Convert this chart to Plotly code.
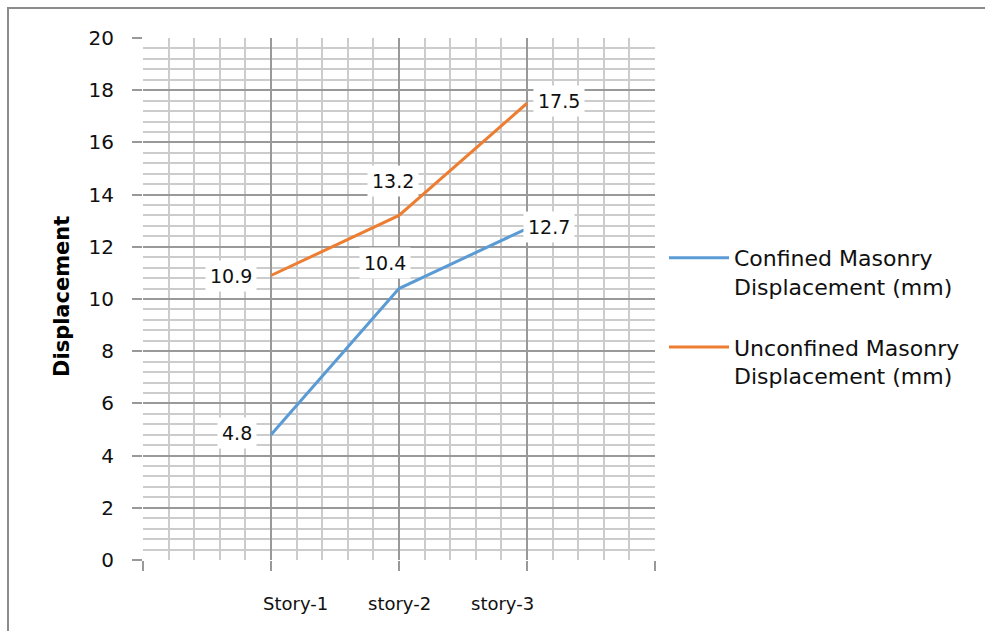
import plotly.graph_objects as go

# Story levels and lateral displacement (mm)
stories = ["Story-1", "story-2", "story-3"]
confined = [4.8, 10.4, 12.7]
unconfined = [10.9, 13.2, 17.5]

series_names = [
    "Confined Masonry<br>Displacement (mm)",
    "Unconfined Masonry<br>Displacement (mm)",
]
series_colors = ["#5B9BD5", "#ED7D31"]

# positions of the stories on the numeric x axis
story_pos = [1, 2, 3]

W, H = 985, 631
L, R, T, B = 143, 330, 38, 71
PW, PH = W - L - R, H - T - B

FONT = "DejaVu Sans, Verdana, sans-serif"
TXT = "#101010"

fig = go.Figure()
for name, vals, col in zip(series_names, [confined, unconfined], series_colors):
    fig.add_trace(go.Scatter(
        x=story_pos, y=vals, mode="lines", name=name,
        legendgroup=name,
        line=dict(color=col, width=3),
        hoverinfo="skip",
    ))

# data labels with white boxes: per-point placement (side, xshift, yshift)
placements = {
    0: [("left", -10, 2), ("above", -14, 26), ("right", -4, 2)],
    1: [("left", -10, 0), ("above", -6, 34), ("right", 6, 2)],
}
annotations = []
for si, vals in enumerate([confined, unconfined]):
    for pi, v in enumerate(vals):
        kind, dx, dy = placements[si][pi]
        if kind == "left":
            xa, xs = "right", -4 + dx
        elif kind == "right":
            xa, xs = "left", 0 + dx
        else:
            xa, xs = "center", dx
        annotations.append(dict(
            x=story_pos[pi], y=v, xref="x", yref="y",
            text=f"{v}", showarrow=False,
            xanchor=xa, yanchor="middle", xshift=xs, yshift=dy,
            font=dict(family=FONT, size=19, color=TXT),
            bgcolor="white", borderpad=4,
        ))

# category labels under the axis
for i, s in enumerate(stories):
    annotations.append(dict(
        x=2 + (i - 1) * 0.805, y=-43 / PH, xref="x", yref="paper",
        text=s, showarrow=False, xanchor="center", yanchor="middle",
        font=dict(family=FONT, size=18, color=TXT),
    ))

# y axis title
annotations.append(dict(
    x=(62 - L) / PW, y=(560 - 297) / PH, xref="paper", yref="paper",
    text="<b>Displacement</b>", textangle=-90, showarrow=False,
    xanchor="center", yanchor="middle",
    font=dict(family=FONT, size=21, color="black"),
))

fig.update_layout(
    width=W, height=H,
    margin=dict(l=L, r=R, t=T, b=B),
    paper_bgcolor="white", plot_bgcolor="white",
    showlegend=True,
    legend=dict(
        x=(664 - L) / PW, y=(H - B - 237) / PH, xanchor="left", yanchor="top",
        font=dict(family=FONT, size=22, color=TXT),
        valign="top", traceorder="grouped", tracegroupgap=29,
        itemwidth=60, bgcolor="rgba(0,0,0,0)",
    ),
    annotations=annotations,
    xaxis=dict(
        range=[0, 4], tickvals=[0, 1, 2, 3, 4], showticklabels=False,
        showgrid=True, gridcolor="#999999", gridwidth=2,
        minor=dict(dtick=0.2, showgrid=True, gridcolor="#cccccc", gridwidth=2),
        ticks="outside", ticklen=10, tickcolor="#999999", tickwidth=2,
        showline=False, zeroline=False, fixedrange=True,
    ),
    yaxis=dict(
        range=[0, 20], tickvals=list(range(0, 21, 2)),
        showgrid=True, gridcolor="#999999", gridwidth=2,
        minor=dict(dtick=0.4, showgrid=True, gridcolor="#cccccc", gridwidth=2),
        ticks="outside", ticklen=10, tickcolor="#999999", tickwidth=2,
        ticklabelstandoff=14,
        tickfont=dict(family=FONT, size=20, color=TXT),
        showline=False, zeroline=False, fixedrange=True,
    ),
    shapes=[dict(
        type="rect", xref="paper", yref="paper",
        x0=(8 - L) / PW, x1=(W + 20 - L) / PW,
        y0=(H - B - (H + 20)) / PH, y1=(H - B - 8) / PH,
        line=dict(color="#8c8c8c", width=2), layer="below",
    )],
)

fig.write_html("out.html")
